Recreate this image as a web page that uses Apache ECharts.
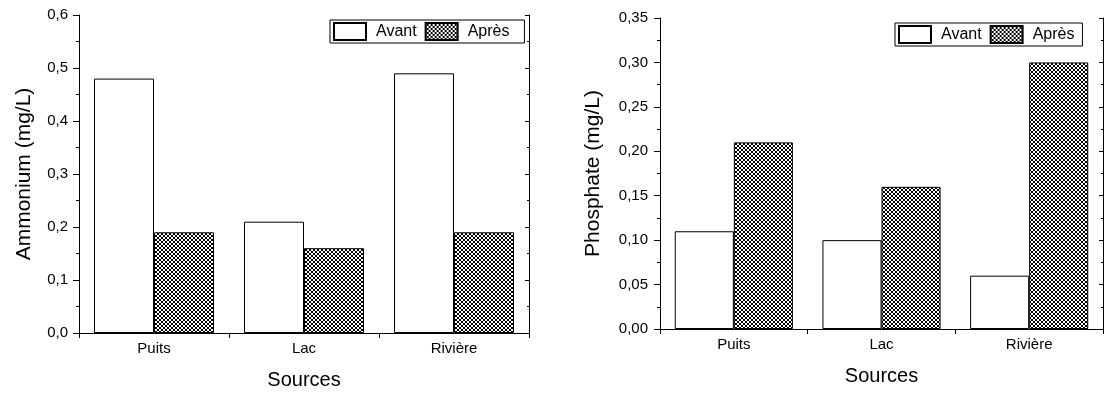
<!DOCTYPE html>
<html>
<head>
<meta charset="utf-8">
<script src="https://cdn.jsdelivr.net/npm/echarts@6/dist/echarts.min.js"></script>
<style>html,body{margin:0;padding:0;background:#fff}#c{width:1105px;height:396px}</style>
</head>
<body>
<div id="c"></div>
<script>
const categories = ['Puits', 'Lac', 'Rivière'];
const seriesNames = ['Avant', 'Après'];
const ammoniumAvant = [0.48, 0.21, 0.49];
const ammoniumApres = [0.19, 0.16, 0.19];
const phosphateAvant = [0.11, 0.10, 0.06];
const phosphateApres = [0.21, 0.16, 0.30];
const leftAxisTitle = 'Ammonium (mg/L)';
const rightAxisTitle = 'Phosphate (mg/L)';
const xAxisTitle = 'Sources';

// crosshatch pattern
const pc = document.createElement('canvas');
pc.width = 4; pc.height = 4;
const pctx = pc.getContext('2d');
pctx.fillStyle = '#fff'; pctx.fillRect(0, 0, 4, 4);
pctx.fillStyle = '#000';
for (let i = 0; i < 4; i++) { pctx.fillRect(i, i, 1, 1); pctx.fillRect(i, 3 - i, 1, 1); }
const hatch = { image: pc, repeat: 'repeat' };

const FONT = '"Liberation Sans", Arial, sans-serif';
const black = '#000';

function xAxes(gi, nameGap) {
  return [{
    type: 'category', gridIndex: gi, data: categories, position: 'bottom',
    axisLine: { lineStyle: { color: black, width: 1 } },
    axisTick: { show: true, length: 5, lineStyle: { color: black } },
    axisLabel: { color: black, fontSize: 15, fontFamily: FONT, margin: 8 },
    name: xAxisTitle, nameLocation: 'middle', nameGap: nameGap,
    nameTextStyle: { color: black, fontSize: 20, fontFamily: FONT }
  }, {
    type: 'category', gridIndex: gi, data: categories, position: 'top',
    axisLine: { lineStyle: { color: black, width: 1 } },
    axisTick: { show: true, inside: true, length: 4, lineStyle: { color: black } },
    axisLabel: { show: false }
  }];
}
function yAxes(gi, max, interval, dec, name, nameGap, margin) {
  return [{
    type: 'value', gridIndex: gi, min: 0, max: max, interval: interval, position: 'left',
    axisLine: { show: true, lineStyle: { color: black, width: 1 } },
    axisTick: { show: true, length: 6, lineStyle: { color: black } },
    minorTick: { show: true, splitNumber: 2, length: 3, lineStyle: { color: black } },
    splitLine: { show: false },
    axisLabel: { color: black, fontSize: 15, fontFamily: FONT, margin: margin,
      formatter: v => v.toFixed(dec).replace('.', ',') },
    name: name, nameLocation: 'middle', nameGap: nameGap, nameRotate: 90,
    nameTextStyle: { color: black, fontSize: 21, fontFamily: FONT }
  }, {
    type: 'value', gridIndex: gi, min: 0, max: max, interval: interval, position: 'right',
    axisLine: { show: true, lineStyle: { color: black, width: 1 } },
    axisTick: { show: true, inside: true, length: 4, lineStyle: { color: black } },
    minorTick: { show: true, splitNumber: 2, length: 2, lineStyle: { color: black } },
    splitLine: { show: false },
    axisLabel: { show: false }
  }];
}
function bars(xi, yi, avant, apres) {
  const common = { type: 'bar', xAxisIndex: xi, yAxisIndex: yi, barGap: '0%', barCategoryGap: '20%', animation: false };
  return [
    Object.assign({ name: seriesNames[0], data: avant,
      itemStyle: { color: '#fff', borderColor: black, borderWidth: 1 } }, common),
    Object.assign({ name: seriesNames[1], data: apres,
      itemStyle: { color: hatch, borderColor: black, borderWidth: 1 } }, common)
  ];
}
function legend(left, top, padRight) {
  return {
    data: seriesNames.map(n => ({ name: n, icon: 'rect' })), left: left, top: top, orient: 'horizontal',
    itemWidth: 32, itemHeight: 17, itemGap: 8,
    padding: [2, padRight, 2, 3],
    borderColor: black, borderWidth: 1,
    selectedMode: false,
    textStyle: { color: black, fontSize: 16, fontFamily: FONT, padding: [0, 0, 0, 5] }
  };
}

const option = {
  backgroundColor: '#fff',
  animation: false,
  grid: [
    { left: 79, width: 450, top: 15, bottom: 63 },
    { left: 660, width: 443, top: 18, bottom: 67 }
  ],
  legend: [legend(330, 20, 15), legend(895, 23, 8)],
  xAxis: [...xAxes(0, 37), ...xAxes(1, 37)],
  yAxis: [
    ...yAxes(0, 0.6, 0.1, 1, leftAxisTitle, 44, 11),
    ...yAxes(1, 0.35, 0.05, 2, rightAxisTitle, 56, 12)
  ],
  series: [...bars(0, 0, ammoniumAvant, ammoniumApres), ...bars(2, 2, phosphateAvant, phosphateApres)]
};
const chart = echarts.init(document.getElementById('c'), null, { renderer: 'canvas' });
chart.setOption(option);
</script>
</body>
</html>
